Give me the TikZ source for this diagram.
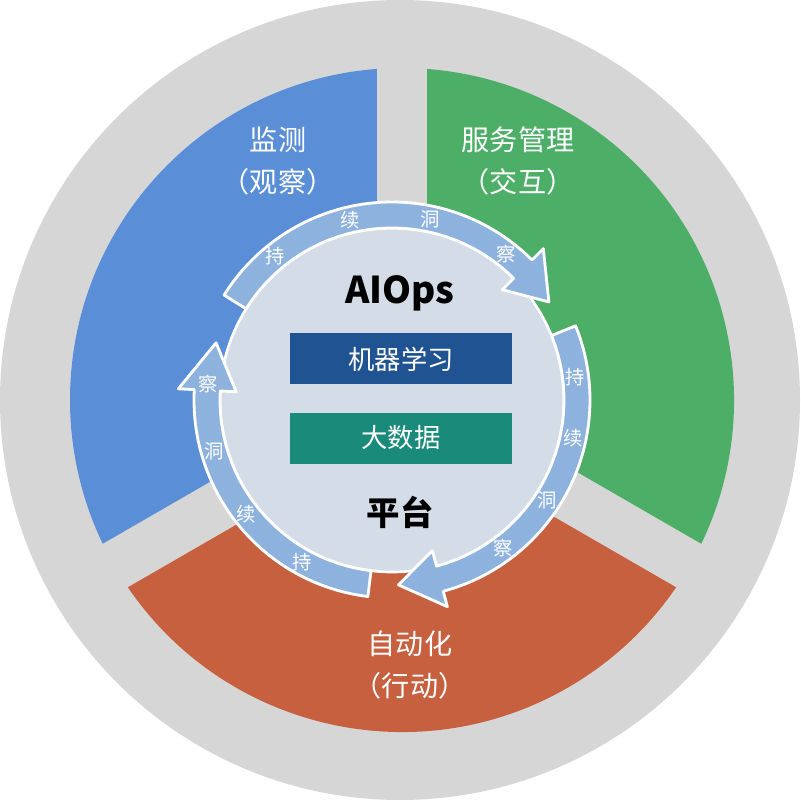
\documentclass[tikz,border=0pt]{standalone}
\usepackage{fontspec}
\setmainfont{Noto Sans CJK SC}
\definecolor{bgray}{HTML}{D6D6D6}
\definecolor{sblue}{HTML}{5A8FD8}
\definecolor{sgreen}{HTML}{4DAE68}
\definecolor{sred}{HTML}{C6603F}
\definecolor{disk}{HTML}{D4DCE7}
\definecolor{ringc}{HTML}{8DB2DE}
\definecolor{boxblue}{HTML}{1F5391}
\definecolor{boxteal}{HTML}{1A8A7A}
\tikzset{
 lbl/.style={text=white,font=\fontsize{16}{24}\selectfont,align=center},
 rch/.style={text=white,font=\fontsize{11}{13}\selectfont,inner sep=0pt},
 arr/.style={fill=ringc,draw=white,line width=1.6pt,line join=round},
 cbox/.style={minimum width=222*0.02cm,minimum height=51*0.02cm,inner sep=0pt,text=white,font=\fontsize{15}{18}\selectfont}
}
\begin{document}
\begin{tikzpicture}[x=0.02cm,y=-0.02cm]
\useasboundingbox (0,0) rectangle (801,800);
\fill[bgray] (400,400) circle[radius=400];
\begin{scope}[shift={(402,400)},yscale=-1]
\fill[sgreen] (0,0) -- (-30:332) arc[start angle=-30,end angle=90,radius=332] -- cycle;
\fill[sblue] (0,0) -- (90:332) arc[start angle=90,end angle=210,radius=332] -- cycle;
\fill[sred] (0,0) -- (210:332) arc[start angle=210,end angle=330,radius=332] -- cycle;
\foreach \a in {90,210,330} \draw[bgray,line width=1cm] (0,0) -- (\a:345);
\end{scope}
\node[lbl] (mon) at (278,161) {监测\\（观察）};
\node[lbl] (svc) at (518,161) {服务管理\\（交互）};
\node[lbl] (aut) at (410,665) {自动化\\（行动）};
\begin{scope}[shift={(392,400)},yscale=-1]
\fill[disk,draw=white,line width=1.5pt] (0,0) circle[radius=172];
\foreach \t/\h/\p in {148/45/32, 22/-75/-88, -97/-183/-198}{
 \path[arr] (\t:198) arc[start angle=\t,end angle=\h,radius=198] -- (\h:214) -- (\p:185) -- (\h:156) -- (\h:172) arc[start angle=\h,end angle=\t,radius=172] -- cycle;
}
\foreach \a/\c [count=\i] in {129/持,103/续,78/洞,52/察,7/持,-12/续,-33/洞,-53/察,-119/持,-142/续,-164/洞,-185/察}
 \node[rch] (r\i) at (\a:185) {\c};
\end{scope}
\node[font=\fontsize{21}{24}\selectfont\bfseries] (aiops) at (400,293) {AIOps};
\node[cbox,fill=boxblue] (ml) at (401,359) {机器学习};
\node[cbox,fill=boxteal] (bd) at (401,438) {大数据};
\node[font=\fontsize{19}{22}\selectfont\bfseries] (plat) at (400,512) {平台};
\end{tikzpicture}
\end{document}
